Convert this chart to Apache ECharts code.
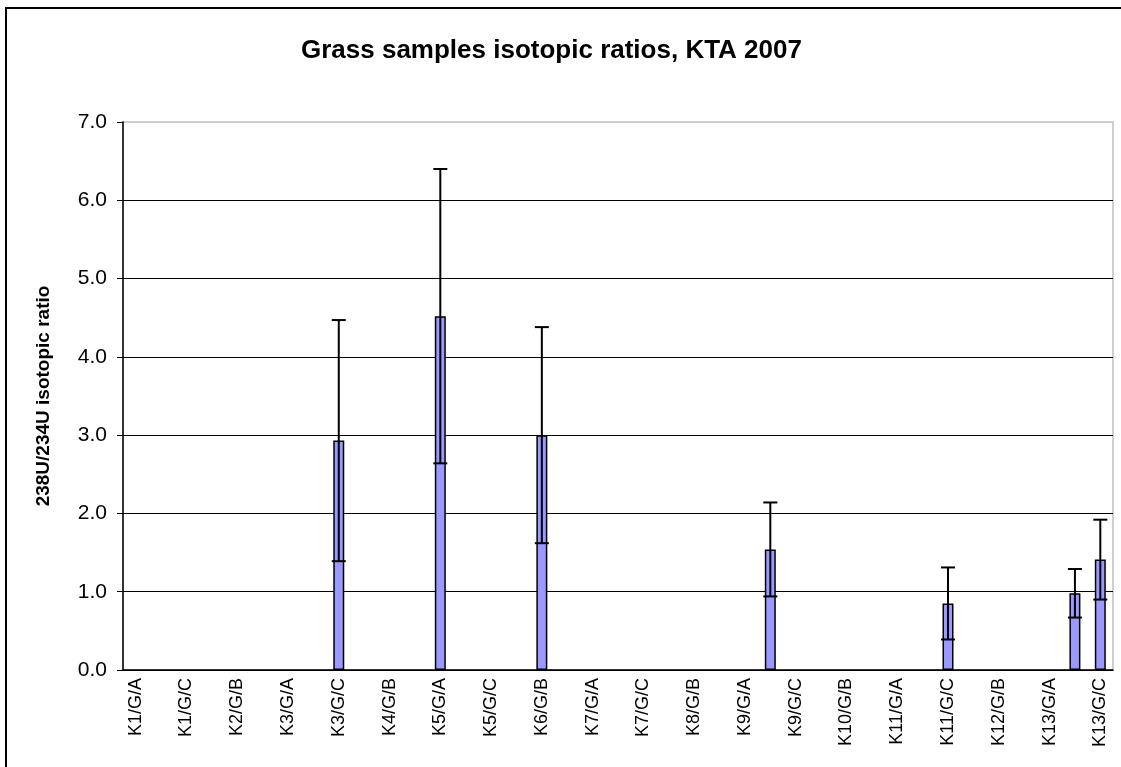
<!DOCTYPE html>
<html>
<head>
<meta charset="utf-8">
<script src="https://cdn.jsdelivr.net/npm/echarts@6/dist/echarts.min.js"></script>
<style>
html,body{margin:0;padding:0;background:#fff;}
#chart{width:1121px;height:767px;}
</style>
</head>
<body>
<div id="chart"></div>
<script>
const categories = [
  'K1/G/A','K1/G/B','K1/G/C','K2/G/A','K2/G/B','K2/G/C','K3/G/A','K3/G/B','K3/G/C',
  'K4/G/A','K4/G/B','K4/G/C','K5/G/A','K5/G/B','K5/G/C','K6/G/A','K6/G/B','K6/G/C',
  'K7/G/A','K7/G/B','K7/G/C','K8/G/A','K8/G/B','K8/G/C','K9/G/A','K9/G/B','K9/G/C',
  'K10/G/A','K10/G/B','K10/G/C','K11/G/A','K11/G/B','K11/G/C','K12/G/A','K12/G/B','K12/G/C',
  'K13/G/A','K13/G/B','K13/G/C'
];
const ratios = [
  null,null,null,null,null,null,null,null,2.93,
  null,null,null,4.52,null,null,null,3.00,null,
  null,null,null,null,null,null,null,1.54,null,
  null,null,null,null,null,0.85,null,null,null,
  null,0.98,1.41
];
const errors = [
  null,null,null,null,null,null,null,null,1.54,
  null,null,null,1.88,null,null,null,1.38,null,
  null,null,null,null,null,null,null,0.60,null,
  null,null,null,null,null,0.46,null,null,null,
  null,0.31,0.51
];
const yTicks = [0,1,2,3,4,5,6,7];

const errData = [];
ratios.forEach((v,i)=>{ if(v!=null){ errData.push([i, v-errors[i], v+errors[i]]); } });

const chart = echarts.init(document.getElementById('chart'));
chart.setOption({
  animation:false,
  backgroundColor:'#fff',
  title:{
    text:'Grass samples isotopic ratios, KTA 2007',
    left:296, top:33,
    textStyle:{fontFamily:'Liberation Sans, Arial', fontWeight:'bold', fontSize:26, color:'#000'}
  },
  graphic:[{
    type:'rect', shape:{x:6,y:8,width:1300,height:900},
    style:{fill:'none', stroke:'#000', lineWidth:2}, silent:true
  }],
  grid:{left:123, right:8, top:122, bottom:97, show:true, borderColor:'#c0c0c0', borderWidth:1.5, backgroundColor:'transparent'},
  xAxis:{
    type:'category', data:categories,
    axisLine:{lineStyle:{color:'#000', width:1.5}},
    axisTick:{interval:0, alignWithLabel:false, length:5, lineStyle:{color:'#000'}},
    axisLabel:{interval:1, rotate:90, fontFamily:'Liberation Sans, Arial', fontSize:18, color:'#000', margin:8},
    splitLine:{show:false}
  },
  yAxis:{
    type:'value', min:yTicks[0], max:yTicks[yTicks.length-1], interval:1,
    name:'238U/234U isotopic ratio', nameLocation:'middle', nameGap:70, nameRotate:90,
    nameTextStyle:{fontFamily:'Liberation Sans, Arial', fontWeight:'bold', fontSize:19, color:'#000'},
    axisLine:{show:true, lineStyle:{color:'#000', width:1.5}},
    axisTick:{show:true, length:6, lineStyle:{color:'#000'}},
    axisLabel:{formatter:v=>v.toFixed(1), fontFamily:'Liberation Sans, Arial', fontSize:21, color:'#000', margin:16},
    splitLine:{show:true, showMaxLine:false, lineStyle:{color:'#000', width:1}}
  },
  series:[
    {
      type:'bar', data:ratios, barWidth:11,
      itemStyle:{color:'#9999FF', borderColor:'#000', borderWidth:1.5},
      z:2
    },
    {
      type:'custom', data:errData, z:5,
      encode:{x:0, y:[1,2]},
      renderItem:function(params, api){
        const i = api.value(0);
        const lo = api.coord([i, api.value(1)]);
        const hi = api.coord([i, api.value(2)]);
        const hw = 7;
        const st = {stroke:'#000', lineWidth:2, fill:'none'};
        return {type:'group', children:[
          {type:'line', shape:{x1:hi[0],y1:hi[1],x2:lo[0],y2:lo[1]}, style:st},
          {type:'line', shape:{x1:hi[0]-hw,y1:hi[1],x2:hi[0]+hw,y2:hi[1]}, style:st},
          {type:'line', shape:{x1:lo[0]-hw,y1:lo[1],x2:lo[0]+hw,y2:lo[1]}, style:st}
        ]};
      }
    }
  ]
});
</script>
</body>
</html>
